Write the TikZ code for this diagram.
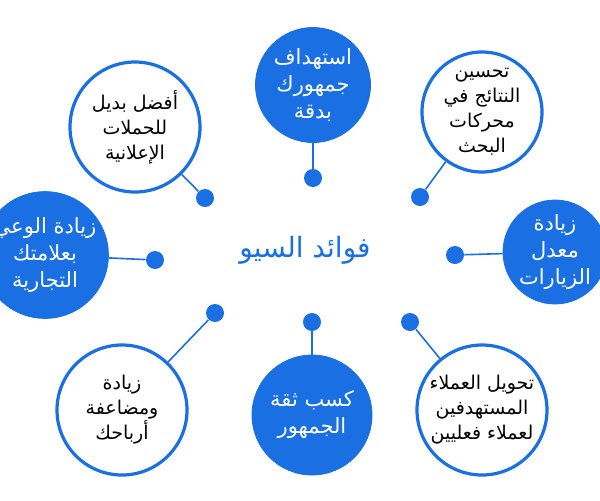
\documentclass[tikz,border=0pt]{standalone}
\usepackage{fontspec}
\newfontfamily\arabicfont[Script=Arabic]{DejaVu Sans}
\TeXXeTstate=1
\definecolor{seoblue}{HTML}{1A6FE3}
\newcommand{\ar}[1]{\beginR #1\endR}
\tikzset{
  fullcirc/.style={circle, fill=seoblue, draw=seoblue, text=white, font=\arabicfont\fontsize{10.5}{13.5}\selectfont, align=center, inner sep=0pt},
  ringcirc/.style={circle, fill=white, draw=seoblue, line width=1.6pt, text=black, font=\arabicfont\fontsize{9.5}{12.5}\selectfont, align=center, inner sep=0pt},
  seodot/.style={circle, fill=seoblue, minimum size=9pt, inner sep=0pt},
  link/.style={draw=seoblue, line width=0.8pt}
}
\begin{document}
\begin{tikzpicture}[x=0.5pt, y=-0.5pt]
  \useasboundingbox (0,0) rectangle (600,500);
  \node[text=seoblue, font=\arabicfont\fontsize{14}{16}\selectfont] (title) at (305,250) {\ar{فوائد السيو}};
  % circles, anchor point, dot
  \foreach \n/\x/\y/\r/\st/\dx/\dy/\t in {
    a/313/85/115/fullcirc/313/178/{\ar{استهداف}\\\ar{جمهورك}\\\ar{بدقة}},
    b/482/112/120/ringcirc/420/197/{\ar{تحسين}\\\ar{النتائج في}\\\ar{محركات}\\\ar{البحث}},
    c/555/252/104/fullcirc/455/255/{\ar{زيادة}\\\ar{معدل}\\\ar{الزيارات}},
    d/482/410/130/ringcirc/410/322/{\ar{تحويل العملاء}\\\ar{المستهدفين}\\\ar{لعملاء فعليين}},
    e/312/415/120/fullcirc/312/322/{\ar{كسب ثقة}\\\ar{الجمهور}},
    f/122/410/130/ringcirc/215/313/{\ar{زيادة}\\\ar{ومضاعفة}\\\ar{أرباحك}},
    g/45/255/104/fullcirc/155/260/{\ar{زيادة الوعي}\\\ar{بعلامتك}\\\ar{التجارية}},
    h/135/127/130/ringcirc/205/198/{\ar{أفضل بديل}\\\ar{للحملات}\\\ar{الإعلانية}}}
  {
    \node[seodot] (dot-\n) at (\dx,\dy) {};
    \node[\st, minimum size=\r*0.5pt] (c-\n) at (\x,\y) {\t};
    \draw[link] (dot-\n) -- (c-\n);
  }
\end{tikzpicture}
\end{document}
